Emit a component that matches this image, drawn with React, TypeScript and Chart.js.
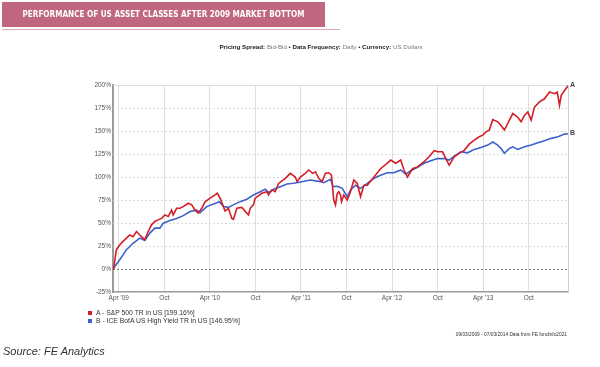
import React, { useEffect, useRef } from "react";
import { Chart, registerables } from "chart.js";
Chart.register(...registerables);

// Dates as decimal years (start 09/03/2009, end 07/03/2014)
const redYears = [2009.184, 2009.192, 2009.221, 2009.258, 2009.294, 2009.332, 2009.368, 2009.404, 2009.442, 2009.478, 2009.514, 2009.533, 2009.570, 2009.607, 2009.643, 2009.680, 2009.717, 2009.753, 2009.790, 2009.827, 2009.845, 2009.882, 2009.919, 2009.955, 2010.010, 2010.048, 2010.084, 2010.120, 2010.158, 2010.194, 2010.249, 2010.304, 2010.329, 2010.359, 2010.389, 2010.414, 2010.451, 2010.488, 2010.506, 2010.543, 2010.598, 2010.653, 2010.671, 2010.690, 2010.726, 2010.745, 2010.818, 2010.874, 2010.891, 2010.929, 2010.965, 2011.001, 2011.075, 2011.130, 2011.185, 2011.204, 2011.240, 2011.295, 2011.332, 2011.376, 2011.406, 2011.442, 2011.479, 2011.516, 2011.552, 2011.582, 2011.607, 2011.626, 2011.645, 2011.662, 2011.681, 2011.692, 2011.717, 2011.755, 2011.791, 2011.827, 2011.865, 2011.901, 2011.938, 2011.975, 2012.048, 2012.121, 2012.195, 2012.232, 2012.287, 2012.342, 2012.378, 2012.416, 2012.471, 2012.526, 2012.598, 2012.653, 2012.709, 2012.746, 2012.801, 2012.837, 2012.874, 2012.929, 2012.984, 2013.039, 2013.094, 2013.149, 2013.204, 2013.242, 2013.278, 2013.314, 2013.352, 2013.407, 2013.443, 2013.480, 2013.535, 2013.572, 2013.627, 2013.663, 2013.700, 2013.737, 2013.774, 2013.810, 2013.865, 2013.920, 2013.975, 2014.030, 2014.060, 2014.085, 2014.104, 2014.140, 2014.178];
const redValues = [0, 1, 21, 26, 30, 33.6, 37, 35, 40.7, 37, 33.6, 31.7, 40.7, 48, 51.6, 53.4, 55, 58.8, 57, 64, 58.8, 66, 66, 67.8, 71.5, 69.7, 64, 60.7, 66, 73, 77, 80.5, 82.3, 77, 69.7, 63, 66, 55, 54, 66, 67, 60.7, 58.8, 66, 70, 77, 82.3, 84, 80.5, 86, 84, 93, 98.6, 104, 100, 95, 100, 104, 107.6, 104, 105.7, 98.6, 95, 104, 104.6, 102, 75, 69.7, 82, 84, 80.5, 73.2, 80.5, 75, 84, 96.7, 93, 78.7, 91, 91, 100, 109, 115, 118.4, 115, 118.4, 107.6, 100, 109, 111, 116.6, 122, 128.5, 127.4, 127.4, 120, 113, 122, 125.7, 129, 135.7, 140, 143.7, 145.5, 149, 151, 162.5, 160, 156, 151, 161.8, 169, 165, 160, 167, 170.7, 161.8, 176, 181.6, 185, 192.4, 190.6, 192.4, 178, 188.8, 194, 199.16];

const blueYears = [2009.184, 2009.258, 2009.332, 2009.404, 2009.478, 2009.533, 2009.588, 2009.643, 2009.698, 2009.735, 2009.809, 2009.882, 2009.955, 2010.029, 2010.103, 2010.139, 2010.213, 2010.323, 2010.351, 2010.396, 2010.451, 2010.506, 2010.578, 2010.653, 2010.726, 2010.800, 2010.855, 2010.891, 2010.946, 2011.020, 2011.094, 2011.167, 2011.240, 2011.350, 2011.461, 2011.497, 2011.571, 2011.601, 2011.645, 2011.700, 2011.755, 2011.791, 2011.846, 2011.901, 2011.975, 2012.048, 2012.121, 2012.195, 2012.268, 2012.342, 2012.397, 2012.452, 2012.526, 2012.598, 2012.672, 2012.746, 2012.819, 2012.874, 2012.929, 2013.003, 2013.076, 2013.149, 2013.223, 2013.297, 2013.352, 2013.407, 2013.443, 2013.480, 2013.535, 2013.572, 2013.627, 2013.700, 2013.774, 2013.847, 2013.920, 2013.994, 2014.068, 2014.140, 2014.178];
const blueValues = [0, 10, 21, 28, 33.6, 31, 39, 44.4, 44.4, 49.8, 52.7, 55, 58, 62.4, 64, 61.3, 67.8, 72, 73.2, 67.8, 67, 69.7, 73.2, 75.8, 80.5, 84, 86.7, 83, 86.7, 89.5, 92.4, 93.2, 94.5, 96.7, 95, 93.8, 97.5, 89.5, 90, 87.7, 78.7, 86, 91, 87.7, 93, 98.6, 102, 104.6, 104.6, 107.6, 103, 106.8, 110.5, 115, 117.7, 120, 120, 118.4, 122.7, 127.4, 126.3, 130, 132, 134.7, 138, 134.7, 131, 125.7, 131, 132.8, 130, 132.8, 134.7, 137.2, 139.3, 142, 143.7, 146.6, 146.95];

const yTicks = [-25, 0, 25, 50, 75, 100, 125, 150, 175, 200];
const xTickYears = [2009.247, 2009.748, 2010.247, 2010.748, 2011.247, 2011.748, 2012.247, 2012.748, 2013.247, 2013.748];
const xTickLabels = ["Apr '09", "Oct", "Apr '10", "Oct", "Apr '11", "Oct", "Apr '12", "Oct", "Apr '13", "Oct"];
const seriesNames = ["A - S&P 500 TR in US [199.16%]", "B - ICE BofA US High Yield TR in US [146.95%]"];
const endTags = ["A", "B"];
const seriesColors = ["#d21f27", "#3d60cd"];

const FONT = "'Liberation Sans', Arial, sans-serif";

export default function App() {
  const ref = useRef<HTMLCanvasElement | null>(null);

  useEffect(() => {
    const canvas = ref.current;
    if (!canvas) return;

    const gridPlugin = {
      id: "customGrid",
      beforeDatasetsDraw(chart: any) {
        const { ctx, chartArea, scales } = chart;
        ctx.save();
        yTicks.forEach((v) => {
          if (v === -25) return;
          const y = Math.round(scales.y.getPixelForValue(v)) + 0.5;
          ctx.beginPath();
          if (v === 200) {
            ctx.setLineDash([]);
            ctx.strokeStyle = "#dcdcdc";
          } else if (v === 0) {
            ctx.setLineDash([2, 2]);
            ctx.strokeStyle = "#808080";
          } else {
            ctx.setLineDash([2, 2]);
            ctx.strokeStyle = "#dcdcdc";
          }
          ctx.lineWidth = 1;
          ctx.moveTo(chartArea.left, y);
          ctx.lineTo(chartArea.right, y);
          ctx.stroke();
        });
        ctx.setLineDash([]);
        ctx.strokeStyle = "#cfcfcf";
        ctx.beginPath();
        const xr = Math.round(chartArea.right) + 0.5;
        ctx.moveTo(xr, chartArea.top);
        ctx.lineTo(xr, chartArea.bottom);
        ctx.stroke();
        ctx.restore();
      },
      afterDatasetsDraw(chart: any) {
        const { ctx } = chart;
        ctx.save();
        ctx.font = `bold 7px ${FONT}`;
        ctx.fillStyle = "#444";
        ctx.textBaseline = "middle";
        chart.data.datasets.forEach((_: any, i: number) => {
          const meta = chart.getDatasetMeta(i);
          const pt = meta.data[meta.data.length - 1];
          if (pt) ctx.fillText(endTags[i], pt.x + 2, pt.y - 1);
        });
        ctx.restore();
      },
    };

    const chart = new Chart(canvas, {
      type: "line",
      data: {
        datasets: [
          {
            label: seriesNames[0],
            data: redYears.map((x, i) => ({ x, y: redValues[i] })),
            borderColor: seriesColors[0],
            borderWidth: 1.6,
            pointRadius: 0,
            tension: 0,
          },
          {
            label: seriesNames[1],
            data: blueYears.map((x, i) => ({ x, y: blueValues[i] })),
            borderColor: seriesColors[1],
            borderWidth: 1.6,
            pointRadius: 0,
            tension: 0,
          },
        ],
      },
      options: {
        responsive: false,
        animation: false,
        devicePixelRatio: 1,
        layout: { padding: { left: 73, right: 32, top: 85, bottom: 55 } },
        plugins: { legend: { display: false }, tooltip: { enabled: false } },
        scales: {
          x: {
            type: "linear",
            min: 2009.184,
            max: 2014.178,
            afterBuildTicks: (axis: any) => {
              axis.ticks = xTickYears.map((v) => ({ value: v }));
            },
            afterFit: (axis: any) => {
              axis.height = 20;
            },
            ticks: {
              autoSkip: false,
              maxRotation: 0,
              padding: 2,
              color: "#555",
              font: { family: FONT, size: 6.5 },
              callback: (_v: any, i: number) => xTickLabels[i],
            },
            grid: { color: "#dedede", lineWidth: 1, drawTicks: false },
            border: { color: "#9a9a9a", width: 1.5 },
          },
          y: {
            min: -25,
            max: 200,
            afterBuildTicks: (axis: any) => {
              axis.ticks = yTicks.map((v) => ({ value: v }));
            },
            afterFit: (axis: any) => {
              axis.width = 40;
            },
            ticks: {
              padding: 2,
              color: "#555",
              font: { family: FONT, size: 6.5 },
              callback: (v: any) => `${v}%`,
            },
            grid: { display: false, drawTicks: false },
            border: { color: "#9a9a9a", width: 2 },
          },
        },
      },
      plugins: [gridPlugin],
    } as any);

    return () => chart.destroy();
  }, []);

  const textBase: React.CSSProperties = { position: "absolute", fontFamily: FONT, whiteSpace: "nowrap" };

  return (
    <div style={{ position: "fixed", left: 0, top: 0, width: 600, height: 367, background: "#fff", overflow: "hidden" }}>
      <canvas ref={ref} width={600} height={367} style={{ position: "absolute", left: 0, top: 0, width: 600, height: 367 }} />
      <div style={{ position: "absolute", left: 2, top: 2, width: 323, height: 25, background: "#c1667f" }} />
      <div style={{ position: "absolute", left: 2, top: 28.5, width: 338, height: 1.5, background: "#dcaab8" }} />
      <div
        style={{
          ...textBase,
          left: 2,
          top: 2,
          width: 323,
          height: 25,
          lineHeight: "25px",
          textAlign: "center",
          color: "#fff",
          fontWeight: "bold",
          fontSize: 8.1,
          fontFamily: "'Liberation Sans Narrow', 'DejaVu Sans Condensed', Arial, sans-serif",
        }}
      >
        PERFORMANCE OF US ASSET CLASSES AFTER 2009 MARKET BOTTOM
      </div>
      <div style={{ ...textBase, left: 0, width: 642, top: 43, textAlign: "center", fontSize: 6.2, color: "#222" }}>
        <b>Pricing Spread:</b> <span style={{ color: "#777" }}>Bid-Bid</span> • <b>Data Frequency:</b>{" "}
        <span style={{ color: "#777" }}>Daily</span> • <b>Currency:</b> <span style={{ color: "#777" }}>US Dollars</span>
      </div>
      {seriesNames.map((name, i) => (
        <div key={name} style={{ ...textBase, left: 88, top: 309 + i * 7.5, fontSize: 6.8, color: "#333", lineHeight: "8px" }}>
          <span
            style={{
              display: "inline-block",
              width: 4,
              height: 4,
              background: seriesColors[i],
              marginRight: 4,
              verticalAlign: "middle",
            }}
          />
          {name}
        </div>
      ))}
      <div style={{ ...textBase, right: 33, top: 332, fontSize: 4.8, color: "#333" }}>
        09/03/2009 - 07/03/2014 Data from FE fundinfo2021
      </div>
      <div style={{ ...textBase, left: 3, top: 345, fontSize: 11, fontStyle: "italic", color: "#333" }}>
        Source: FE Analytics
      </div>
    </div>
  );
}
